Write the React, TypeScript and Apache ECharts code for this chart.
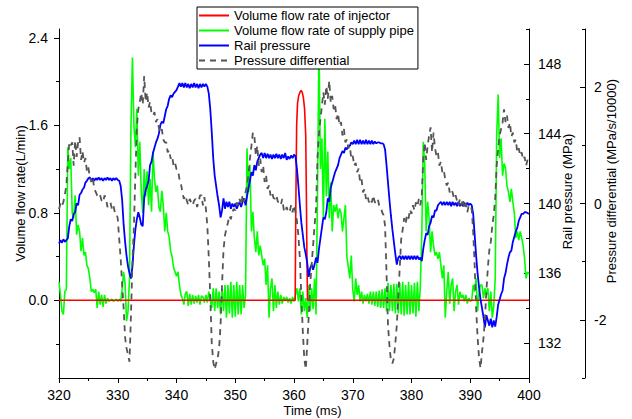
import React, { useEffect, useRef } from 'react';
import * as echarts from 'echarts';

// ---- data ----
// sampling grid of the three recorded signals: 320 ms .. 400 ms, every 0.25 ms
const T_START = 320;
const T_STEP = 0.25;

// Volume flow rate of supply pipe (L/min)
const supplyFlow = [
  0.17, 0.05, -0.10, -0.13, 0.08, 0.10, 1.40, 1.20, 1.30, 0.80, 0.75, 0.96, 0.60, 0.69, 0.63, 0.45, 0.57, 0.41, 0.44, 0.32,
  0.29, 0.20, 0.08, 0.10, 0.07, 0.10, -0.07, 0.08, -0.04, 0.05, -0.06, 0.05, -0.03, 0.02, -0.01, 0.00, 0.01, -0.01, 0.00, 0.01,
  -0.01, 0.01, -0.01, 0.10, 0.26, 0.15, -0.19, -0.10, 0.20, 1.60, 2.22, 1.60, 1.40, 1.75, 1.14, 1.45, 1.00, 0.80, 1.20, 0.95,
  1.18, 0.87, 1.11, 0.81, 1.36, 1.11, 0.99, 1.05, 0.85, 0.81, 1.00, 0.87, 0.63, 0.80, 0.63, 0.58, 0.45, 0.40, 0.30, 0.26,
  0.22, 0.26, 0.14, 0.05, 0.02, -0.04, 0.06, 0.08, -0.05, 0.06, -0.04, 0.05, -0.03, 0.04, -0.02, 0.05, -0.04, 0.04, 0.03, -0.02,
  0.05, -0.02, 0.08, 0.00, -0.07, 0.11, -0.10, 0.11, -0.07, 0.08, -0.13, 0.11, -0.10, 0.14, -0.16, 0.14, -0.12, 0.17, -0.16, 0.14,
  -0.15, 0.17, -0.13, 0.14, -0.13, 0.14, -0.07, 0.05, 1.39, 0.99, 1.24, 0.63, 0.81, 0.57, 0.44, 0.63, 0.41, 0.50, 0.41, 0.32,
  0.38, 0.14, 0.32, -0.16, 0.11, 0.20, -0.10, 0.14, -0.07, 0.08, -0.04, 0.05, -0.03, 0.03, 0.00, 0.03, -0.02, 0.02, -0.03, 0.03,
  -0.01, 0.05, 0.11, -0.01, 0.11, -0.13, 0.08, -0.10, 0.02, -0.16, 0.14, -0.10, 0.11, -0.08, 0.20, -0.13, 0.99, 2.35, 1.20, 1.48,
  0.75, 1.66, 0.95, 1.36, 0.75, 1.08, 0.63, 0.87, 0.81, 0.88, 0.75, 0.84, 0.80, 0.63, 0.75, 0.87, 0.40, 0.30, 0.20, 0.41,
  0.10, -0.01, 0.20, 0.05, 0.14, -0.01, 0.08, -0.03, 0.05, -0.01, 0.06, -0.03, 0.08, -0.04, 0.08, -0.05, 0.08, -0.06, 0.09, -0.07,
  0.10, -0.07, 0.11, -0.10, 0.16, -0.10, 0.14, -0.10, 0.15, -0.12, 0.15, -0.12, 0.16, -0.13, 0.17, -0.14, 0.14, -0.13, 0.17, -0.13,
  0.14, -0.12, 0.16, -0.15, 0.17, -0.10, 0.13, 0.60, 1.45, 1.24, 0.63, 0.90, 0.75, 0.44, 0.63, 0.50, 0.41, 0.44, 0.38, 0.44,
  0.32, 0.20, 0.32, -0.16, 0.08, 0.26, -0.03, 0.14, 0.20, -0.10, 0.08, 0.14, -0.04, 0.08, 0.02, 0.05, -0.01, 0.05, -0.03, 0.02,
  -0.01, 0.00, 0.14, 0.08, 0.20, -0.10, 0.08, 0.14, 0.14, 0.02, 0.11, 0.05, 0.11, -0.10, 0.08, -0.16, -0.05, 0.20, 1.51, 1.88,
  1.30, 1.48, 1.14, 1.25, 1.21, 1.05, 0.99, 0.90, 1.02, 0.90, 0.80, 0.57, 0.63, 0.55, 0.63, 0.57, 0.50, 0.38, 0.20, 0.26,
  0.24,
];

// Rail pressure (MPa)
const railPressure = [
  137.7, 137.9, 137.75, 137.95, 137.8, 137.9, 138.0, 138.7, 139.1, 139.0, 139.4, 139.5, 140.0, 139.9, 140.5, 140.6, 140.8, 140.9, 141.2, 141.3,
  141.45, 141.5, 141.3, 141.45, 141.3, 141.45, 141.35, 141.5, 141.35, 141.45, 141.3, 141.45, 141.35, 141.5, 141.35, 141.45, 141.3, 141.45, 141.35, 141.45,
  141.35, 141.3, 141.0, 140.2, 138.8, 137.8, 137.0, 136.4, 136.0, 135.7, 136.4, 137.6, 138.5, 139.1, 139.5, 139.2, 138.8, 138.7, 140.3, 140.8,
  141.0, 141.3, 142.2, 142.4, 142.9, 143.2, 143.5, 143.7, 144.0, 144.5, 144.7, 144.6, 145.0, 145.4, 145.6, 146.0, 146.2, 146.1, 146.3, 146.4,
  146.5, 146.7, 146.9, 146.7, 146.9, 146.65, 146.9, 146.65, 146.85, 146.6, 146.85, 146.65, 146.9, 146.65, 146.85, 146.6, 146.85, 146.65, 146.85, 146.7,
  146.85, 146.7, 146.3, 145.4, 144.1, 142.6, 141.6, 141.0, 140.4, 139.9, 139.2, 139.6, 140.3, 139.7, 140.1, 139.8, 140.1, 139.7, 140.0, 139.8,
  140.0, 139.7, 139.9, 140.1, 139.8, 140.1, 140.3, 139.9, 140.4, 140.9, 141.3, 141.8, 141.6, 142.2, 141.9, 142.4, 142.6, 142.8, 142.9, 142.6,
  142.9, 142.6, 142.85, 142.6, 142.8, 142.55, 142.8, 142.6, 142.85, 142.6, 142.8, 142.55, 142.8, 142.6, 142.9, 142.5, 142.7, 142.55, 142.75, 142.6,
  142.8, 142.7, 142.0, 141.0, 139.9, 138.9, 138.2, 137.5, 137.1, 136.6, 135.8, 136.3, 136.5, 136.2, 136.5, 136.9, 136.6, 137.4, 138.0, 138.6,
  139.2, 139.1, 139.5, 140.3, 140.1, 140.9, 141.2, 141.5, 141.8, 142.0, 142.2, 142.6, 142.8, 143.0, 142.9, 143.2, 143.1, 143.3, 143.3, 143.5,
  143.4, 143.6, 143.4, 143.65, 143.4, 143.65, 143.4, 143.6, 143.4, 143.65, 143.4, 143.6, 143.4, 143.6, 143.4, 143.55, 143.45, 143.5, 143.5, 143.45,
  143.45, 143.4, 143.1, 142.2, 141.2, 140.2, 139.3, 138.5, 137.8, 137.1, 136.5, 136.9, 137.0, 136.8, 137.0, 136.8, 137.0, 136.8, 137.0, 136.8,
  137.0, 136.8, 137.0, 136.8, 137.0, 136.8, 136.9, 136.7, 137.4, 137.9, 138.3, 138.2, 138.7, 138.9, 139.3, 139.2, 139.6, 139.6, 139.9, 140.0,
  140.1, 139.9, 140.1, 139.9, 140.1, 139.9, 140.1, 139.85, 140.1, 139.9, 140.05, 139.85, 140.1, 139.85, 140.0, 139.85, 140.05, 139.85, 140.05, 139.9,
  140.0, 139.9, 139.4, 138.2, 137.0, 136.0, 135.2, 134.5, 134.0, 133.5, 132.9, 133.6, 133.3, 133.0, 133.4, 132.9, 133.3, 132.95, 133.5, 134.2,
  134.5, 134.8, 135.0, 135.7, 136.0, 136.5, 136.9, 137.2, 137.3, 137.8, 138.1, 138.4, 138.6, 139.0, 139.2, 139.4, 139.4, 139.5, 139.5, 139.45,
  139.4,
];

// Pressure differential (MPa/s/10000)
const pressureDiff = [
  -0.10, 0.00, -0.05, 0.03, 0.15, 0.31, 0.70, 1.05, 1.00, 1.05, 0.65, 1.08, 0.80, 1.05, 1.14, 0.75, 0.90, 0.70, 0.78, 0.55,
  0.62, 0.45, 0.37, 0.45, 0.25, 0.20, 0.14, 0.10, 0.14, 0.05, 0.02, 0.14, 0.08, -0.06, -0.03, 0.02, -0.09, -0.03, -0.15, -0.15,
  -0.26, -0.61, -0.95, -1.40, -1.80, -2.30, -2.49, -2.60, -2.72, -1.92, -1.00, -0.40, 0.50, 1.30, 1.62, 1.75, 1.90, 1.70, 2.19, 1.75,
  1.91, 1.65, 1.75, 1.55, 1.51, 1.57, 1.40, 1.45, 1.30, 1.22, 1.28, 1.10, 1.05, 1.05, 0.88, 0.92, 0.77, 0.82, 0.65, 0.70,
  0.59, 0.58, 0.42, 0.35, 0.19, 0.08, 0.14, 0.05, -0.03, 0.08, 0.02, -0.03, 0.05, 0.08, -0.06, 0.02, 0.14, 0.14, -0.03, 0.11,
  -0.09, -0.38, -0.94, -1.60, -2.40, -2.72, -2.85, -2.75, -2.66, -2.49, -2.09, -1.40, -0.80, -0.55, -0.43, -0.33, -0.21, -0.27, -0.15, -0.09,
  -0.12, 0.02, -0.03, 0.08, -0.03, 0.14, 0.03, 0.20, 0.30, 0.50, 0.77, 0.99, 1.22, 1.17, 0.82, 0.99, 0.65, 0.77, 0.54, 0.65,
  0.37, 0.48, 0.25, 0.31, 0.14, 0.20, 0.10, 0.08, 0.14, 0.03, 0.02, -0.03, 0.08, -0.10, -0.15, -0.06, -0.15, -0.15, -0.03, -0.15,
  -0.03, -0.15, -0.30, -0.55, -0.95, -1.60, -2.20, -2.66, -2.85, -2.43, -1.95, -1.40, -1.06, -0.72, -0.38, -0.09, 0.80, 1.20, 1.45, 1.68,
  1.91, 1.70, 2.02, 1.80, 2.11, 1.74, 1.85, 1.62, 1.70, 1.45, 1.55, 1.34, 1.40, 1.17, 1.28, 1.05, 1.10, 0.95, 0.99, 0.77,
  0.82, 0.65, 0.70, 0.54, 0.60, 0.37, 0.42, 0.19, 0.25, 0.08, 0.14, 0.02, 0.08, 0.02, 0.14, 0.02, 0.02, 0.08, -0.03, -0.05,
  -0.15, -0.20, -0.38, -1.20, -2.09, -2.45, -2.70, -2.75, -2.66, -2.40, -2.09, -1.60, -1.10, -0.61, -0.45, -0.25, -0.35, -0.20, -0.26, -0.10,
  -0.18, -0.03, -0.12, 0.02, -0.05, 0.08, -0.03, 0.14, 0.77, 1.05, 0.75, 0.99, 1.17, 1.31, 0.88, 1.22, 0.95, 0.82, 0.88, 0.65,
  0.72, 0.54, 0.58, 0.40, 0.31, 0.36, 0.19, 0.25, 0.19, 0.08, 0.14, 0.05, -0.03, 0.08, -0.03, 0.08, -0.09, 0.00, -0.15, -0.03,
  -0.03, -0.10, -0.49, -1.06, -1.80, -2.30, -2.66, -2.83, -2.55, -2.32, -1.98, -1.50, -1.10, -0.80, -0.66, -0.38, -0.20, 0.10, 0.65, 0.94,
  1.17, 1.28, 1.39, 1.62, 1.40, 1.51, 1.30, 1.39, 1.15, 1.22, 1.05, 1.10, 0.88, 0.95, 0.82, 0.88, 0.75, 0.80, 0.65, 0.75,
  0.70,
];

// Volume flow rate of injector (L/min) - one injection pulse
const injectorTime = [320, 360.2, 360.3, 360.45, 360.6, 360.8, 361.0, 361.2, 361.4, 361.6, 361.8, 362.0, 362.1, 362.2, 362.3, 400];
const injectorFlow = [0, 0, 0.8, 1.6, 1.8, 1.87, 1.9, 1.92, 1.9, 1.85, 1.75, 1.5, 1.0, 0.4, 0, 0];

// axis ticks
const flowTicks = [0, 0.8, 1.6, 2.4];
const flowMinorTicks = [-0.4, 0.4, 1.2, 2.0];
const railTicks = [132, 136, 140, 144, 148];
const railMinorTicks = [130, 134, 138, 142, 146, 150];
const diffTicks = [-2, 0, 2];
const diffMinorTicks = [-3, -1, 1, 3];

const SERIES_NAMES = [
  'Volume flow rate of injector',
  'Volume flow rate of supply pipe',
  'Rail pressure',
  'Pressure differential',
];

const FONT = '"Liberation Sans", Arial, Helvetica, sans-serif';

function onGrid(values: number[]): number[][] {
  return values.map((v, i) => [T_START + i * T_STEP, v]);
}

export default function App() {
  const ref = useRef<HTMLDivElement>(null);

  useEffect(() => {
    if (!ref.current) return;
    const chart = echarts.init(ref.current, undefined, { renderer: 'svg' });
    const black = { color: '#000', width: 1 };

    const yMajor = (min: number, max: number, ticks: number[], position: string, offset: number, inside: boolean, margin: number, digits: number) => ({
      type: 'value',
      position,
      offset,
      min,
      max,
      axisLine: { show: true, onZero: false, lineStyle: black },
      axisTick: { show: true, inside, length: 5, lineStyle: black, customValues: ticks },
      axisLabel: {
        show: true,
        customValues: ticks,
        margin,
        fontSize: 14,
        color: '#000',
        fontFamily: FONT,
        formatter: (v: number) => v.toFixed(digits),
      },
      splitLine: { show: false },
    });
    const yMinor = (min: number, max: number, ticks: number[], position: string, offset: number, inside: boolean) => ({
      type: 'value',
      position,
      offset,
      min,
      max,
      axisLine: { show: false },
      axisTick: { show: true, inside, length: 3, lineStyle: black, customValues: ticks },
      axisLabel: { show: false },
      splitLine: { show: false },
    });

    chart.setOption({
      animation: false,
      backgroundColor: '#fff',
      grid: { left: 59, right: 103, top: 29, bottom: 41, containLabel: false },
      legend: {
        data: SERIES_NAMES,
        orient: 'vertical',
        left: 197,
        top: 7,
        itemWidth: 30,
        itemHeight: 14,
        itemGap: 2,
        padding: [2, 4, 2, 1],
        borderColor: '#000',
        borderWidth: 1,
        borderRadius: 0,
        backgroundColor: '#fff',
        selectedMode: false,
        itemStyle: { opacity: 0, borderWidth: 0 },
        lineStyle: { opacity: 1, width: 2 },
        textStyle: { fontSize: 13, color: '#000', fontFamily: FONT },
      },
      xAxis: {
        type: 'value',
        min: 320,
        max: 400,
        interval: 10,
        axisLine: { show: true, onZero: false, lineStyle: black },
        axisTick: { show: true, length: 5, lineStyle: black },
        minorTick: { show: true, splitNumber: 2, length: 3, lineStyle: black },
        axisLabel: { fontSize: 14, color: '#000', fontFamily: FONT, margin: 10 },
        splitLine: { show: false },
        minorSplitLine: { show: false },
      },
      yAxis: [
        yMajor(-0.71, 2.48, flowTicks, 'left', 0, false, 11, 1),
        yMinor(-0.71, 2.48, flowMinorTicks, 'left', 0, false),
        yMajor(130, 150, railTicks, 'right', 0, true, 9, 0),
        yMinor(130, 150, railMinorTicks, 'right', 0, true),
        yMajor(-3, 3, diffTicks, 'right', 56, true, 9, 0),
        yMinor(-3, 3, diffMinorTicks, 'right', 56, true),
      ],
      graphic: [
        {
          type: 'text', x: 20, y: 193.5, rotation: Math.PI / 2,
          style: { text: 'Volume flow rate(L/min)', fontSize: 13, fontFamily: FONT, fill: '#000', align: 'center', verticalAlign: 'middle' },
        },
        {
          type: 'text', x: 567.5, y: 191.5, rotation: Math.PI / 2,
          style: { text: 'Rail pressure (MPa)', fontSize: 13, fontFamily: FONT, fill: '#000', align: 'center', verticalAlign: 'middle' },
        },
        {
          type: 'text', x: 611, y: 181, rotation: Math.PI / 2,
          style: { text: 'Pressure differential (MPa/s/10000)', fontSize: 13, fontFamily: FONT, fill: '#000', align: 'center', verticalAlign: 'middle' },
        },
        {
          type: 'text', x: 312.5, y: 410,
          style: { text: 'Time (ms)', fontSize: 13, fontFamily: FONT, fill: '#000', align: 'center', verticalAlign: 'middle' },
        },
      ],
      series: [
        {
          name: SERIES_NAMES[1],
          type: 'line',
          yAxisIndex: 0,
          data: onGrid(supplyFlow),
          symbol: 'none',
          showSymbol: false,
          silent: true,
          lineStyle: { color: '#00ff00', width: 1.6 },
          itemStyle: { color: '#00ff00' },
        },
        {
          name: SERIES_NAMES[0],
          type: 'line',
          yAxisIndex: 0,
          data: injectorTime.map((t, i) => [t, injectorFlow[i]]),
          symbol: 'none',
          showSymbol: false,
          silent: true,
          lineStyle: { color: '#ff0000', width: 1.6 },
          itemStyle: { color: '#ff0000' },
        },
        {
          name: SERIES_NAMES[2],
          type: 'line',
          yAxisIndex: 2,
          data: onGrid(railPressure),
          symbol: 'none',
          showSymbol: false,
          silent: true,
          lineStyle: { color: '#0000ff', width: 1.8 },
          itemStyle: { color: '#0000ff' },
        },
        {
          name: SERIES_NAMES[3],
          type: 'line',
          yAxisIndex: 4,
          data: onGrid(pressureDiff),
          symbol: 'none',
          showSymbol: false,
          silent: true,
          lineStyle: { color: '#555555', width: 1.8, type: [6, 5] },
          itemStyle: { color: '#555555' },
        },
      ],
    });

    return () => chart.dispose();
  }, []);

  return <div ref={ref} style={{ position: 'fixed', left: 0, top: 0, width: 632, height: 419 }} />;
}
